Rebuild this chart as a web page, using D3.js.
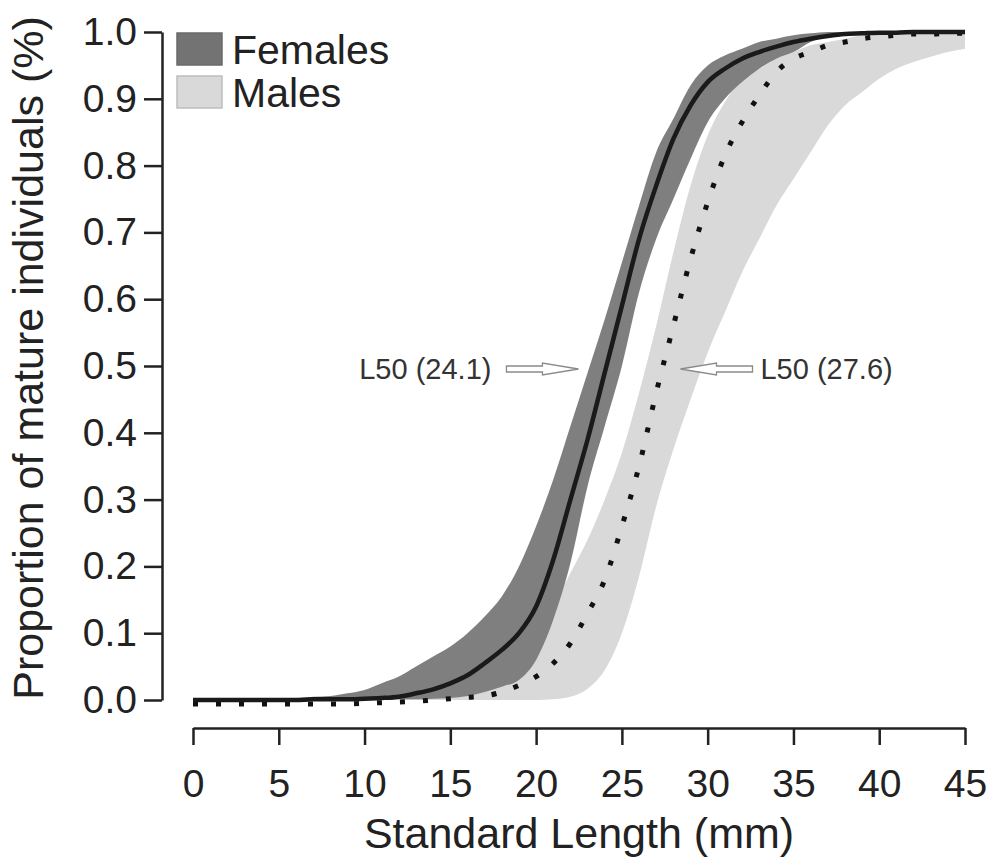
<!DOCTYPE html>
<meta charset="utf-8">
<style>
body { margin: 0; background: #fff; }
svg text { font-family: "Liberation Sans", Arial, Helvetica, sans-serif; fill: #222; }
.axis path, .axis line { stroke: #222; stroke-width: 2.5px; }
.axis text { font-size: 39px; }
.title { font-size: 43px; }
.legend text { font-size: 41px; }
.note { font-size: 29px; fill: #333; }
</style>
<svg width="997" height="863"></svg>
<script src="https://d3js.org/d3.v7.min.js"></script>
<script>

// standard length (mm), one value per mm
var lengths = d3.range(0, 46);

// females: fitted proportion mature and its confidence band
var femMean = [0,0,0,0,0,0,0,0.001,0.001,0.001,0.002,0.003,0.005,0.01,0.016,0.025,0.037,0.055,0.075,0.1,
  0.14,0.21,0.30,0.39,0.49,0.59,0.69,0.77,0.84,0.89,0.925,0.945,0.96,0.97,0.978,0.985,0.99,0.994,0.997,0.998,
  0.999,0.999,1,1,1,1];
var femUpper = [0,0,0.001,0.001,0.002,0.002,0.003,0.005,0.006,0.01,0.015,0.025,0.035,0.05,0.065,0.08,0.1,0.125,0.155,0.2,
  0.26,0.33,0.41,0.49,0.57,0.655,0.74,0.82,0.87,0.92,0.95,0.965,0.975,0.985,0.99,0.995,0.998,1,1,1,
  1,1,1,1,1,1];
var femLower = [0,0,0,0,0,0,0,0,0,0,0,0,0.001,0.001,0.002,0.003,0.006,0.012,0.02,0.03,
  0.06,0.12,0.205,0.32,0.41,0.50,0.61,0.69,0.75,0.81,0.865,0.90,0.925,0.945,0.96,0.97,0.985,0.993,0.997,1,
  1,1,1,1,1,1];

// males
var maleMean = [-0.006,-0.006,-0.006,-0.006,-0.006,-0.006,-0.006,-0.006,-0.006,-0.006,-0.005,-0.004,-0.003,-0.002,0,0.002,0.004,0.006,0.012,0.022,
  0.035,0.055,0.085,0.13,0.18,0.26,0.35,0.46,0.56,0.66,0.745,0.815,0.865,0.905,0.94,0.96,0.97,0.98,0.985,0.99,
  0.993,0.995,0.997,0.997,0.998,0.998];
var maleUpper = [0,0,0,0,0,0,0,0,0,0,0,0,0.001,0.002,0.003,0.005,0.01,0.02,0.04,0.065,
  0.1,0.14,0.19,0.24,0.30,0.37,0.46,0.56,0.67,0.77,0.845,0.895,0.93,0.945,0.96,0.97,0.98,0.985,0.99,0.995,
  0.998,0.998,0.999,0.999,0.999,0.999];
var maleLower = [0,0,0,0,0,0,0,0,0,0,0,0,0,0,0,0,0,0,0,0,
  0,0.001,0.005,0.017,0.045,0.1,0.185,0.29,0.375,0.45,0.52,0.58,0.64,0.69,0.74,0.78,0.82,0.86,0.89,0.91,
  0.93,0.945,0.955,0.963,0.97,0.975];

var xTicks = [0,5,10,15,20,25,30,35,40,45];
var yTicks = [0,0.1,0.2,0.3,0.4,0.5,0.6,0.7,0.8,0.9,1.0];

var groups = ["Females", "Males"];
var bandColor = {Females: "#7f7f7f", Males: "#d9d9d9"};

var labels = [
  {text: "L50 (24.1)", at: 24.1, side: "left"},
  {text: "L50 (27.6)", at: 27.6, side: "right"}
];

var svg = d3.select("svg");

var x = d3.scaleLinear().domain([0, 45]).range([193, 965]);
var y = d3.scaleLinear().domain([0, 1]).range([700, 32]);

var rows = lengths.map(function(l, i) {
  return {l: l, fm: femMean[i], fu: femUpper[i], fl: femLower[i],
          mm: maleMean[i], mu: maleUpper[i], ml: maleLower[i]};
});

function band(lo, hi) {
  return d3.area()
    .curve(d3.curveMonotoneX)
    .x(function(d) { return x(d.l); })
    .y0(function(d) { return y(d[lo]); })
    .y1(function(d) { return y(d[hi]); });
}
function line(key) {
  return d3.line()
    .curve(d3.curveMonotoneX)
    .x(function(d) { return x(d.l); })
    .y(function(d) { return y(d[key]); });
}

svg.append("path").datum(rows)
  .attr("d", band("ml", "mu"))
  .attr("fill", bandColor.Males);

svg.append("path").datum(rows)
  .attr("d", band("fl", "fu"))
  .attr("fill", bandColor.Females);

svg.append("path").datum(rows)
  .attr("d", line("mm"))
  .attr("fill", "none")
  .attr("stroke", "#111")
  .attr("stroke-width", 5)
  .attr("stroke-dasharray", "5,18");

svg.append("path").datum(rows)
  .attr("d", line("fm"))
  .attr("fill", "none")
  .attr("stroke", "#1a1a1a")
  .attr("stroke-width", 4.5);

// axes
svg.append("g")
  .attr("class", "axis")
  .attr("transform", "translate(162,0)")
  .call(d3.axisLeft(y).tickValues(yTicks).tickFormat(d3.format(".1f"))
        .tickSize(18).tickSizeOuter(0).tickPadding(7));

svg.append("g")
  .attr("class", "axis")
  .attr("transform", "translate(0,728)")
  .call(d3.axisBottom(x).tickValues(xTicks).tickFormat(d3.format("d"))
        .tickSize(17).tickSizeOuter(0).tickPadding(24));

svg.selectAll(".axis text").attr("fill", "#222");

svg.append("text")
  .attr("class", "title")
  .attr("x", (x.range()[0] + x.range()[1]) / 2)
  .attr("y", 848)
  .attr("text-anchor", "middle")
  .text("Standard Length (mm)");

svg.append("text")
  .attr("class", "title")
  .attr("transform", "translate(43,358) rotate(-90)")
  .attr("text-anchor", "middle")
  .text("Proportion of mature individuals (%)");

// legend
var legend = svg.append("g").attr("class", "legend").attr("transform", "translate(177,33)");
groups.forEach(function(g, i) {
  legend.append("rect")
    .attr("x", 0).attr("y", i * 43)
    .attr("width", 45).attr("height", 32)
    .attr("fill", i ? bandColor[g] : "#737373")
    .attr("stroke", i ? "#bdbdbd" : "#6a6a6a")
    .attr("stroke-width", 1.5);
  legend.append("text")
    .attr("x", 55).attr("y", i * 43 + 31)
    .text(g);
});

// L50 arrows
function arrowPath(tip, y0, dir) {
  // dir = 1 points right, -1 points left
  var head = 36, len = 72, h = 3, hh = 6;
  var b = tip - dir * head, e = tip - dir * len;
  return "M" + e + "," + (y0 - h) + "L" + b + "," + (y0 - h) + "L" + b + "," + (y0 - hh) +
    "L" + tip + "," + y0 + "L" + b + "," + (y0 + hh) + "L" + b + "," + (y0 + h) +
    "L" + e + "," + (y0 + h) + "Z";
}

labels.forEach(function(d) {
  var py = y(0.5) + 3;
  if (d.side === "left") {
    var tip = x(d.at) - 28;
    svg.append("path").attr("d", arrowPath(tip, py, 1))
      .attr("fill", "#fff").attr("stroke", "#8a8a8a").attr("stroke-width", 1.3);
    svg.append("text").attr("class", "note")
      .attr("x", tip - 87).attr("y", py + 10)
      .attr("text-anchor", "end")
      .text(d.text);
  } else {
    var tip2 = x(d.at) + 14;
    svg.append("path").attr("d", arrowPath(tip2, py, -1))
      .attr("fill", "#fff").attr("stroke", "#8a8a8a").attr("stroke-width", 1.3);
    svg.append("text").attr("class", "note")
      .attr("x", tip2 + 80).attr("y", py + 10)
      .text(d.text);
  }
});

</script>
